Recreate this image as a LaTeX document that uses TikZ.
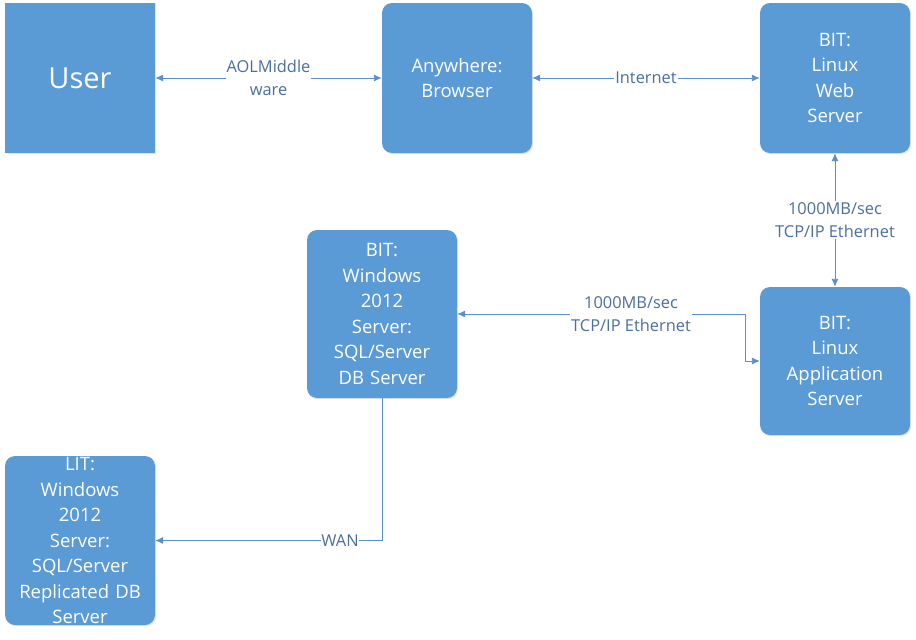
\documentclass[tikz,border=0pt]{standalone}
\usepackage{fontspec}
\setmainfont{Open Sans}
\usetikzlibrary{arrows.meta,shadows}
\definecolor{boxblue}{HTML}{5B9BD5}
\definecolor{lineblue}{HTML}{5B8FCB}
\definecolor{textblue}{HTML}{4A6F9E}

\begin{document}
\begin{tikzpicture}[x=1pt,y=-1pt,
    box/.style={fill=boxblue, draw=none, rounded corners=10pt, minimum width=150pt,
        text=white, align=center, inner sep=0pt, text width=146pt,
        font=\fontsize{18.5}{25.5}\selectfont,
        drop shadow={shadow xshift=1.2pt, shadow yshift=-1.2pt, opacity=0.2}},
    conn/.style={draw=lineblue, line width=0.9pt, {Latex[length=8pt,width=7pt]}-{Latex[length=8pt,width=7pt]}},
    lbl/.style={fill=white, text=textblue, align=center, inner sep=1pt,
        font=\fontsize{16.4}{23}\selectfont}]
        \useasboundingbox (0,0) rectangle (916,640);
        % 节点
        \node[box, rounded corners=0pt, minimum height=150pt, font=\fontsize{29}{34}\selectfont] (user) at (80,78) {User};
        \node[box, minimum height=150pt] (browser) at (457,78) {Anywhere:\\Browser};
        \node[box, minimum height=150pt] (web) at (835,78) {BIT:\\Linux\\Web\\Server};
        \node[box, minimum height=148pt] (app) at (835,361) {BIT:\\Linux\\Application\\Server};
        \node[box, minimum height=168pt] (db) at (382,314) {BIT:\\Windows\\2012\\Server:\\SQL/Server\\DB Server};
        \node[box, minimum height=169pt] (lit) at (80,540.5) {LIT:\\Windows\\2012\\Server:\\SQL/Server\\Replicated DB\\Server};
        
        % 连线
        \coordinate (bendA) at (745,314);
        \draw[conn] (user) -- node[lbl]{AOLMiddle\\ware} (browser);
        \draw[conn] (browser) -- node[lbl]{Internet} (web);
        \draw[conn] (web) -- node[lbl]{1000MB/sec\\TCP/IP Ethernet} (app);
        \draw[conn] (db.east) -- node[lbl, pos=0.604]{1000MB/sec\\TCP/IP Ethernet} (bendA) |- (app.west);
        \draw[conn, {Latex[length=8pt,width=7pt]}-] (lit.east) -- node[lbl, pos=0.815, inner xsep=0pt]{WAN} (lit.east -| db.south) -- (db.south);
    \end{tikzpicture}
\end{document}
